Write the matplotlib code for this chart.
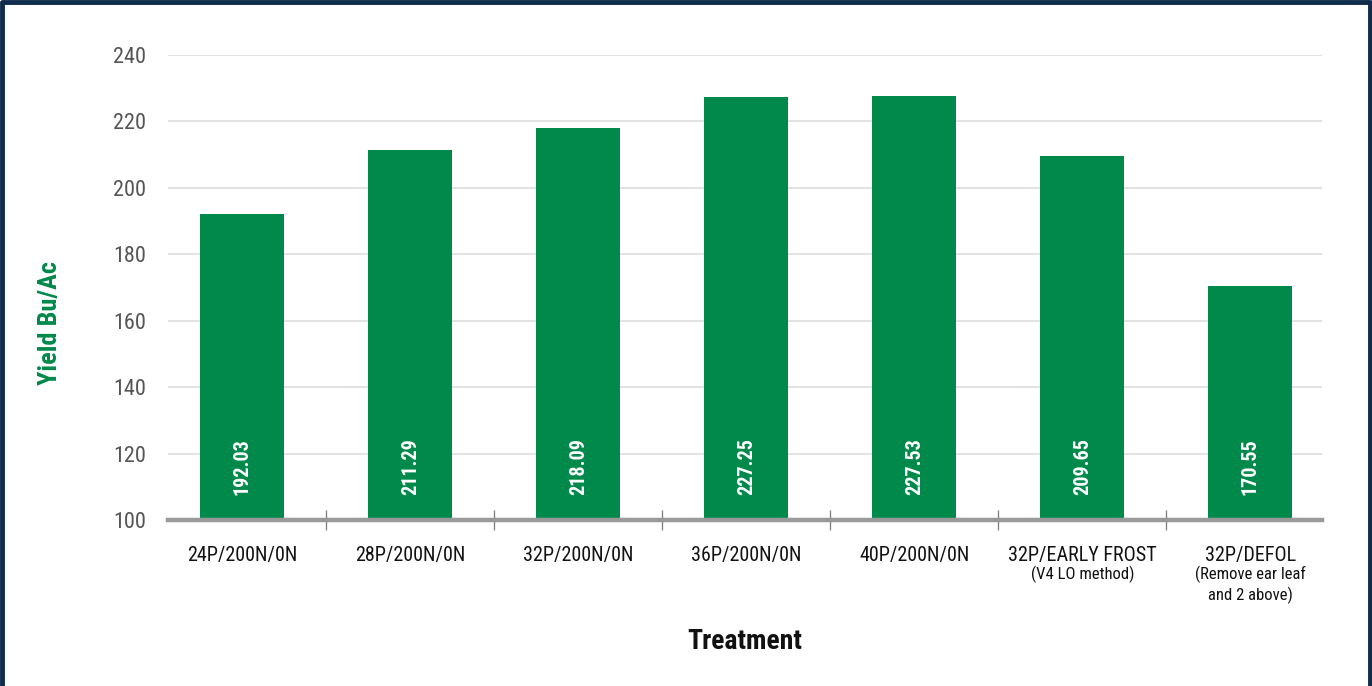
import matplotlib.pyplot as plt
from matplotlib import font_manager
from matplotlib.lines import Line2D
from matplotlib.transforms import blended_transform_factory

# Data
treatments = ["24P/200N/0N", "28P/200N/0N", "32P/200N/0N", "36P/200N/0N",
              "40P/200N/0N", "32P/EARLY FROST", "32P/DEFOL"]
notes = ["", "", "", "", "", "(V4 LO method)", "(Remove ear leaf\nand 2 above)"]
yields = [192.03, 211.29, 218.09, 227.25, 227.53, 209.65, 170.55]
y_ticks = [100, 120, 140, 160, 180, 200, 220, 240]

GREEN = "#00894b"
NAVY = "#0f2c4a"

# the original uses a condensed face; take one if it is installed
installed = {f.name for f in font_manager.fontManager.ttflist}
narrow = next((n for n in ['Roboto Condensed', 'Liberation Sans Narrow',
                           'Open Sans Condensed', 'Arial Narrow'] if n in installed), None)
if narrow:
    plt.rcParams['font.family'] = [narrow, 'DejaVu Sans']
    s = 1.0
else:
    plt.rcParams['font.family'] = ['Liberation Sans', 'DejaVu Sans']
    s = 0.84

fig = plt.figure(figsize=(13.72, 6.86), dpi=100)
ax = fig.add_axes([168 / 1372, 1 - 520 / 686, (1322 - 168) / 1372, (520 - 55) / 686])

x = list(range(len(treatments)))
ax.bar(x, yields, width=0.5, color=GREEN, zorder=2)

# value labels inside the bars, near the bottom
for xi, v in zip(x, yields):
    ax.text(xi, 107.5, f"{v:.2f}", rotation=90, ha='center', va='bottom',
            color='white', fontsize=14.5 * s, fontweight='bold', zorder=3)

ax.set_xlim(-0.443, len(treatments) - 1 + 0.426)
ax.set_ylim(100, 240)
ax.set_yticks(y_ticks)
ax.tick_params(axis='y', length=0, pad=16, labelsize=16 * s, labelcolor='#555555')
ax.grid(axis='y', color='#dddddd', linewidth=1.2, zorder=0)
ax.set_axisbelow(True)

for side in ['top', 'right', 'left']:
    ax.spines[side].set_visible(False)
ax.spines['bottom'].set_color('#999999')
ax.spines['bottom'].set_linewidth(3.2)
ax.spines['bottom'].set_zorder(4)

# category labels and the small separators between them
ax.set_xticks(x)
ax.set_xticklabels(treatments)
ax.set_xticks([i + 0.5 for i in x[:-1]], minor=True)
ax.tick_params(axis='x', which='major', length=0, pad=19, labelsize=14.5 * s, labelcolor='#111111')
ax.tick_params(axis='x', which='minor', length=14, width=1, direction='inout', color='#888888')

trans = blended_transform_factory(ax.transData, ax.transAxes)
for xi, note in zip(x, notes):
    if note:
        ax.annotate(note, xy=(xi, 0), xycoords=trans, xytext=(0, -33),
                    textcoords='offset points', ha='center', va='top',
                    fontsize=12 * s, color='#111111', linespacing=1.25)

ax.set_xlabel("Treatment", fontsize=20 * s, fontweight='bold', color='#111111', labelpad=45)
fig.text(50 / 1372, 1 - 323 / 686, "Yield Bu/Ac", rotation=90, ha='center', va='center',
         fontsize=19 * s, fontweight='bold', color=GREEN)

# dark frame on left, top and right
fig.add_artist(Line2D([0.0015, 0.0015, 0.9982, 0.9982], [0, 0.9975, 0.9975, 0],
                      transform=fig.transFigure, color=NAVY, linewidth=3.5))

fig.savefig("out.png", dpi=100)
